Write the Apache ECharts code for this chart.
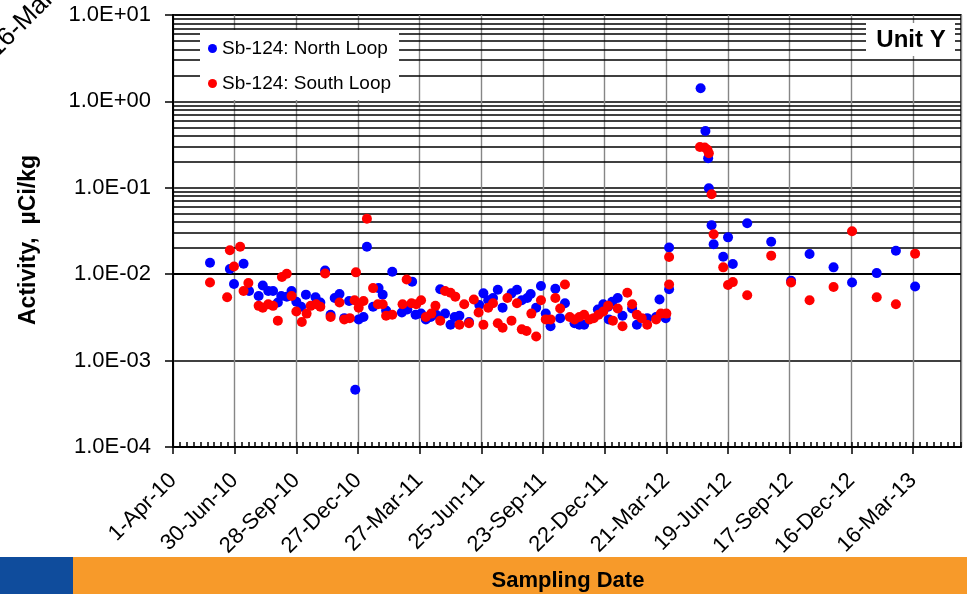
<!DOCTYPE html>
<html><head><meta charset="utf-8">
<script src="https://cdn.jsdelivr.net/npm/echarts@6/dist/echarts.min.js"></script>
<style>html,body{margin:0;padding:0;background:#fff}#c{width:967px;height:594px}</style>
</head><body><div id="c"></div>
<script>
// x values are days since 1-Apr-2010
const xTickLabels = ['1-Apr-10','30-Jun-10','28-Sep-10','27-Dec-10','27-Mar-11','25-Jun-11','23-Sep-11','22-Dec-11','21-Mar-12','19-Jun-12','17-Sep-12','16-Dec-12','16-Mar-13'];
const yTickLabels = ['1.0E-04','1.0E-03','1.0E-02','1.0E-01','1.0E+00','1.0E+01'];
const seriesNames = ['Sb-124: North Loop','Sb-124: South Loop'];

const northDay = [54,83,89,103,111,125,131,139,146,153,158,166,173,180,187,194,208,215,222,230,
  236,243,250,257,266,271,278,283,292,300,306,311,320,334,342,349,354,362,369,376,
  384,390,397,405,411,418,432,447,453,460,467,474,481,494,502,509,517,522,530,537,
  544,551,558,565,572,586,593,600,620,628,635,636,641,649,656,670,677,692,705,710,
  719,724,724,770,777,781,782,786,789,803,810,817,838,873,902,929,964,991,1027,1055,1083];
const northValue = [0.0136,0.0115,0.0077,0.0132,0.0064,0.0056,0.0074,0.0064,0.0064,0.0047,0.0056,0.0055,0.0064,0.0048,0.0042,0.0058,0.0054,0.0047,0.011,0.0034,
  0.0053,0.0059,0.0031,0.0049,0.00046,0.0030,0.0032,0.0208,0.0042,0.0069,0.0058,0.0038,0.0107,0.0036,0.0039,0.0082,0.0034,0.0035,0.0030,0.0032,
  0.0034,0.0067,0.0035,0.0026,0.0032,0.0033,0.0028,0.0044,0.0060,0.0050,0.0053,0.0066,0.0041,0.0060,0.0066,0.0050,0.0053,0.0059,0.0041,0.0073,
  0.0035,0.0025,0.0068,0.0031,0.0046,0.0027,0.0026,0.0026,0.0039,0.0045,0.0042,0.0030,0.0048,0.0053,0.0033,0.0040,0.0026,0.0031,0.0032,0.0051,
  0.0031,0.0067,0.0204,1.42,0.454,0.22,0.099,0.0369,0.0222,0.0159,0.0267,0.0131,0.0388,0.0238,0.0084,0.0171,0.0120,0.0080,0.0103,0.0187,0.0072];

const southDay = [54,79,83,89,98,103,110,125,131,139,146,153,159,166,173,180,188,195,201,209,
  215,222,230,243,250,258,265,267,271,278,283,292,299,306,311,320,335,341,348,355,
  362,369,377,383,390,397,405,412,418,425,432,439,446,453,460,467,474,481,488,494,
  502,509,516,523,530,537,544,551,558,565,572,579,586,593,600,608,614,621,628,635,
  642,649,656,663,670,677,684,692,705,712,720,724,724,769,776,780,782,786,789,803,
  810,817,838,873,902,929,964,991,1027,1055,1083];
const southValue = [0.0080,0.0054,0.0189,0.0123,0.0208,0.0064,0.0079,0.0043,0.0041,0.0045,0.0043,0.0029,0.0093,0.0101,0.0056,0.0037,0.0028,0.0035,0.0043,0.0045,
  0.0042,0.0102,0.0032,0.0047,0.0030,0.0031,0.0050,0.0105,0.0041,0.0049,0.0438,0.0069,0.0045,0.0045,0.0033,0.0034,0.0045,0.0087,0.0046,0.0045,
  0.0050,0.0032,0.0035,0.0043,0.0029,0.0064,0.0061,0.0055,0.0026,0.0045,0.0027,0.0051,0.0036,0.0026,0.0041,0.0046,0.0027,0.0024,0.0053,0.0029,
  0.0046,0.0023,0.0022,0.0035,0.0019,0.0050,0.0030,0.0030,0.0053,0.0040,0.0076,0.0032,0.0030,0.0032,0.0034,0.0030,0.0031,0.0034,0.0037,0.0043,
  0.0029,0.0040,0.0025,0.0061,0.0045,0.0034,0.0031,0.0026,0.0030,0.0035,0.0035,0.0076,0.0158,0.297,0.293,0.276,0.251,0.0843,0.029,0.0120,
  0.0075,0.0081,0.0057,0.0164,0.0080,0.0050,0.0071,0.0314,0.0054,0.0045,0.0173];

const X_MIN = 0, X_MAX = 1150, X_STEP = 90;
const Y_MIN = 1e-4, Y_MAX = 10;

const FONT = 'Liberation Sans, Arial, Helvetica, sans-serif';

// minor horizontal gridlines at 2..9 x each decade (chart furniture, not data)
const minorLines = [];
for (let e = -4; e < 1; e++) for (let m = 2; m <= 9; m++) minorLines.push({ yAxis: m * Math.pow(10, e) });

const zip = (a, b) => a.map((d, i) => [d, b[i]]);

const chart = echarts.init(document.getElementById('c'), null, { renderer: 'canvas' });
const gridPos = { left: 173, top: 15, right: 6, bottom: 147 };

chart.setOption({
  animation: false,
  backgroundColor: '#fff',
  grid: [
    Object.assign({ show: true, borderColor: '#000', borderWidth: 1.5, backgroundColor: 'transparent' }, gridPos),
    Object.assign({ show: false }, gridPos)
  ],
  legend: {
    data: seriesNames,
    orient: 'vertical',
    left: 200, top: 30, z: 20,
    backgroundColor: '#fff',
    padding: [9, 8, 7, 8],
    itemGap: 16,
    icon: 'circle',
    itemWidth: 9, itemHeight: 9,
    textStyle: { fontSize: 19, color: '#000', fontFamily: FONT }
  },
  xAxis: [{
    type: 'value', gridIndex: 0, min: X_MIN, max: X_MAX, interval: X_STEP,
    axisLine: { show: true, lineStyle: { color: '#000', width: 2 } },
    axisTick: { show: true, length: 7, lineStyle: { color: '#000', width: 1.5 } },
    axisLabel: {
      rotate: 45, margin: 30, fontSize: 22, color: '#000', fontFamily: FONT,
      showMaxLabel: false,
      formatter: v => (v % X_STEP === 0 ? xTickLabels[Math.round(v / X_STEP)] || '' : '')
    },
    splitLine: { show: true, lineStyle: { color: '#868686', width: 1.4 } }
  }, {
    type: 'value', gridIndex: 1, min: X_MIN, max: X_MAX, interval: X_STEP, position: 'bottom',
    axisLine: { show: false },
    axisTick: { show: true, inside: true, length: 5, lineStyle: { color: '#000', width: 1.5 } },
    minorTick: { show: true, splitNumber: 9, length: 5, lineStyle: { color: '#000', width: 1.5 } },
    axisLabel: { show: false },
    splitLine: { show: false }
  }],
  yAxis: [{
    type: 'log', gridIndex: 0, logBase: 10, min: Y_MIN, max: Y_MAX,
    axisLine: { show: true, lineStyle: { color: '#000', width: 2 } },
    axisTick: { show: true, length: 8, lineStyle: { color: '#000', width: 1.5 } },
    axisLabel: {
      margin: 22, fontSize: 22, color: '#000', fontFamily: FONT,
      formatter: v => yTickLabels[Math.round(Math.log10(v)) + 4] || ''
    },
    splitLine: { show: true, lineStyle: { color: '#000', width: 1.5 } }
  }, {
    type: 'log', gridIndex: 1, min: Y_MIN, max: Y_MAX, show: false
  }],
  series: [{
    type: 'scatter', name: 'grid', data: [], silent: true, z: 1,
    xAxisIndex: 0, yAxisIndex: 0,
    markLine: {
      silent: true, z: 1, symbol: ['none', 'none'], label: { show: false },
      lineStyle: { color: '#000', width: 1.5, type: 'solid' },
      emphasis: { disabled: true },
      data: minorLines, animation: false
    }
  }, {
    type: 'scatter', name: seriesNames[0], z: 3,
    data: zip(northDay, northValue),
    symbol: 'circle', symbolSize: 10,
    itemStyle: { color: '#0000ff', opacity: 1 }
  }, {
    type: 'scatter', name: seriesNames[1], z: 4,
    data: zip(southDay, southValue),
    symbol: 'circle', symbolSize: 10,
    itemStyle: { color: '#ff0000', opacity: 1 }
  }],
  graphic: [
    { type: 'rect', shape: { x: 0, y: 557, width: 73, height: 37 }, style: { fill: '#0f4c9c' }, z: 10 },
    { type: 'rect', shape: { x: 73, y: 557, width: 894, height: 37 }, style: { fill: '#f79a2a' }, z: 10 },
    { type: 'text', x: 568, y: 581, z: 11,
      style: { text: 'Sampling Date', font: 'bold 22px ' + FONT, fill: '#000', textAlign: 'center', textVerticalAlign: 'middle' } },
    { type: 'rect', shape: { x: 866, y: 23, width: 89, height: 33 }, style: { fill: '#fff' }, z: 30 },
    { type: 'text', x: 911, y: 40, z: 31,
      style: { text: 'Unit Y', font: 'bold 24px ' + FONT, fill: '#000', textAlign: 'center', textVerticalAlign: 'middle' } },
    { type: 'text', x: 29, y: 240, rotation: Math.PI / 2, z: 11,
      style: { text: 'Activity,  µCi/kg', font: 'bold 23px ' + FONT, fill: '#000', textAlign: 'center', textVerticalAlign: 'middle' } },
    { type: 'text', x: 1, y: 62, rotation: Math.PI / 4, z: 11,
      style: { text: '16-Mar-13', font: '26px ' + FONT, fill: '#000', textAlign: 'left', textVerticalAlign: 'bottom' } }
  ]
});
</script>
</body></html>
